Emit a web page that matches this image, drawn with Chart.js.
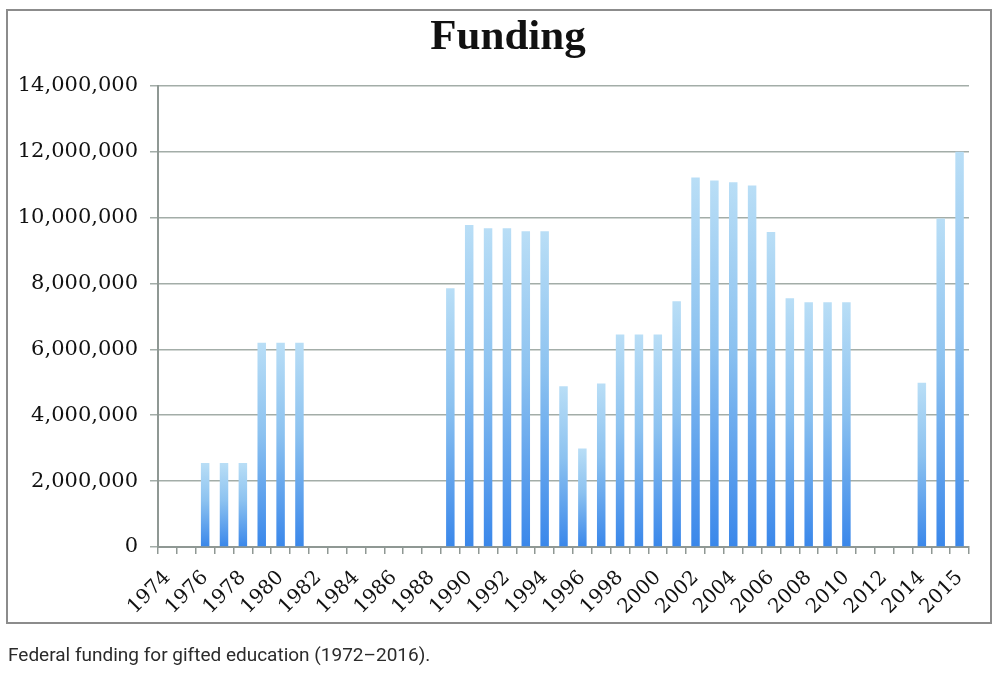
<!DOCTYPE html>
<html>
<head>
<meta charset="utf-8">
<script src="https://cdn.jsdelivr.net/npm/chart.js@4/dist/chart.umd.min.js"></script>
<style>
  html, body { margin: 0; padding: 0; background: #ffffff; overflow: hidden; }
  body { width: 1000px; height: 676px; position: relative; }
  #wrap { position: absolute; left: 0; top: 0; width: 1016px; height: 676px; }
  #frame { position: absolute; left: 6px; top: 9px; width: 982px; height: 611px; border: 2px solid #8c8c8c; pointer-events: none; }
  #caption { position: absolute; left: 8px; top: 643px; font-family: Roboto, "Noto Sans", sans-serif; font-size: 19px; color: #2b2b2b; white-space: nowrap; }
</style>
</head>
<body>
<div id="wrap"><canvas id="c" width="1016" height="676"></canvas></div>
<div id="frame"></div>
<div id="caption">Federal funding for gifted education (1972–2016).</div>
<script>
// Categories (43 slots; labels shown every second slot, last shown label is 2015)
const years = [
  "1974","1975","1976","1977","1978","1979","1980","1981","1982","1983",
  "1984","1985","1986","1987","1988","1989","1990","1991","1992","1993",
  "1994","1995","1996","1997","1998","1999","2000","2001","2002","2003",
  "2004","2005","2006","2007","2008","2009","2010","2011","2012","2013",
  "2014","2014","2015"
];
// Funding values (dollars); null = no bar
const funding = [
  null, null, 2550000, 2550000, 2550000, 6200000, 6200000, 6200000, null, null,
  null, null, null, null, null, 7850000, 9770000, 9670000, 9670000, 9580000,
  9580000, 4880000, 2990000, 4960000, 6450000, 6450000, 6450000, 7460000, 11210000, 11120000,
  11070000, 10970000, 9560000, 7550000, 7430000, 7430000, 7430000, null, null, null,
  4980000, 9970000, 11990000
];
const yTicks = [0, 2000000, 4000000, 6000000, 8000000, 10000000, 12000000, 14000000];
const titleText = "Funding";

function barGradient(ctx) {
  const chart = ctx.chart;
  if (!chart.chartArea || ctx.raw == null) return '#7ab6ee';
  const ys = chart.scales.y;
  const top = ys.getPixelForValue(ctx.raw);
  const bottom = ys.getPixelForValue(0);
  if (!isFinite(top) || !isFinite(bottom) || top === bottom) return '#7ab6ee';
  const g = chart.ctx.createLinearGradient(0, top, 0, bottom);
  g.addColorStop(0, '#b9def6');
  g.addColorStop(0.45, '#8cc2f0');
  g.addColorStop(1, '#3a87ea');
  return g;
}

new Chart(document.getElementById('c'), {
  type: 'bar',
  data: {
    labels: years,
    datasets: [{
      label: 'Funding',
      data: funding,
      backgroundColor: barGradient,
      borderWidth: 0,
      categoryPercentage: 1.0,
      barPercentage: 0.45
    }]
  },
  options: {
    responsive: false,
    animation: false,
    layout: { padding: { left: 8, right: 8, top: 12, bottom: 56 } },
    plugins: {
      legend: { display: false },
      tooltip: { enabled: false },
      title: {
        display: true,
        text: titleText,
        color: '#111111',
        font: { family: '"Liberation Serif", "DejaVu Serif", serif', size: 43, weight: 'bold', lineHeight: 1.2 },
        padding: { top: 0, bottom: 22 }
      }
    },
    scales: {
      x: {
        offset: true,
        grid: { offset: true, drawOnChartArea: false, drawTicks: true, tickLength: 7, color: '#8f9894', lineWidth: 1.5 },
        border: { display: true, color: '#8f9894', width: 2 },
        ticks: {
          autoSkip: false,
          maxRotation: 45,
          minRotation: 45,
          padding: 12,
          color: '#111111',
          font: { family: '"DejaVu Serif", serif', size: 20 },
          callback: function(value, index) { return index % 2 === 0 ? years[index] : ''; }
        },
        afterFit: function(s) { s.height = 73; }
      },
      y: {
        min: 0,
        max: 14000000,
        afterBuildTicks: function(s) { s.ticks = yTicks.map(v => ({ value: v })); },
        grid: { drawTicks: true, tickLength: 8, color: '#a3ada8', lineWidth: 1.5 },
        border: { display: true, color: '#8f9894', width: 2 },
        ticks: {
          padding: 12,
          color: '#111111',
          font: { family: '"DejaVu Serif", serif', size: 21 },
          callback: function(v) { return Number(v).toLocaleString('en-US'); }
        },
        afterFit: function(s) { s.width = 150; }
      },
      yRightSpacer: {
        position: 'right',
        min: 0,
        max: 14000000,
        grid: { display: false, drawOnChartArea: false, drawTicks: false },
        border: { display: false },
        ticks: { display: false },
        afterFit: function(s) { s.width = 39; }
      }
    }
  }
});
</script>
</body>
</html>
